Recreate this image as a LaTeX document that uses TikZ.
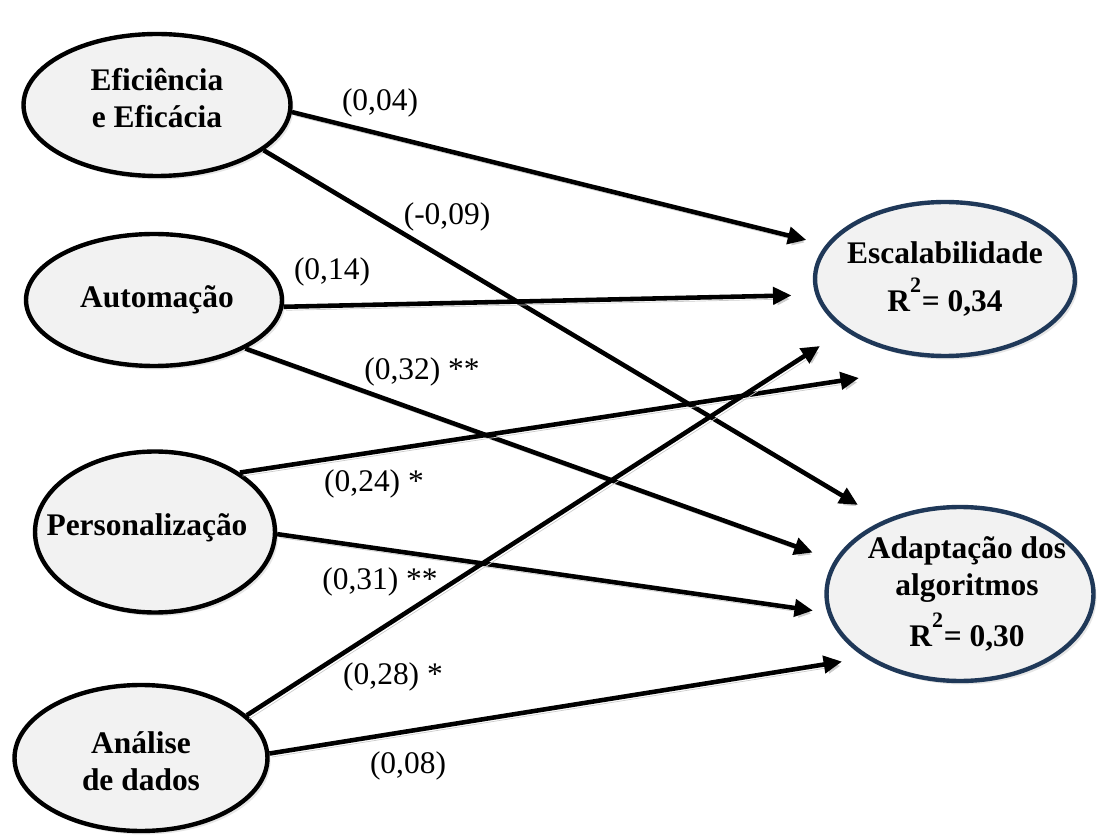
\documentclass[tikz,border=0pt]{standalone}
\usepackage{fontspec}
\setmainfont{Liberation Serif}
\usetikzlibrary{shapes, arrows.meta, shadows}
\definecolor{navy}{RGB}{31,56,88}
\definecolor{lightfill}{RGB}{242,242,242}

\begin{document}
\begin{tikzpicture}[
            x=0.02cm, y=-0.02cm,
            every node/.style={font=\fontsize{17.9}{21}\selectfont},
            construct/.style={ellipse, draw=black, line width=2.5pt, fill=lightfill, inner sep=0pt,
                drop shadow={opacity=0.2, shadow xshift=0.06cm, shadow yshift=-0.07cm}},
            outcome/.style={construct, draw=navy},
            title/.style={font=\fontsize{17.9}{21}\selectfont\bfseries, align=center},
            arrow/.style={-{Triangle[length=0.37cm, width=0.34cm]}, line width=2.6pt,
                preaction={draw=black!20, transform canvas={shift={(0.05cm,-0.07cm)}}}},
            coef/.style={inner sep=0pt}
        ]
            \useasboundingbox (0,0) rectangle (1098,837);

            % Predictors
            \node[construct, minimum width=5.34cm, minimum height=2.84cm,
                label={[title, yshift=0.13cm]center:Eficiência\\e Eficácia}] (eff) at (157,105) {};
            \node[construct, minimum width=5.12cm, minimum height=2.64cm,
                label={[title, xshift=0.06cm]center:Automação}] (aut) at (154,300) {};
            \node[construct, minimum width=4.8cm, minimum height=3.22cm,
                label={[title, xshift=-0.16cm, yshift=0.08cm]center:Personalização}] (per) at (155,532) {};
            \node[construct, minimum width=5.06cm, minimum height=2.92cm,
                label={[title, yshift=-0.06cm]center:Análise\\de dados}] (ana) at (141,758) {};

            % Outcomes
            \node[outcome, minimum width=5.2cm, minimum height=3.08cm,
                label={[title]center:Escalabilidade\\[6pt]R\raisebox{0.55ex}{\textsuperscript{2}}= 0,34}] (esc) at (945,279) {};
            \node[outcome, minimum width=5.34cm, minimum height=3.48cm,
                label={[title, xshift=0.14cm]center:Adaptação dos\\algoritmos\\[5pt]R\raisebox{0.55ex}{\textsuperscript{2}}= 0,30}] (ada) at (960,594) {};

            \coordinate (pertip) at (859,378);

            % Paths
            \draw[arrow, shorten >=0.4cm] (eff.-3) -- (esc.164);
            \draw[arrow, shorten >=0.6cm] (eff.-23) -- (ada.136);
            \draw[arrow, shorten >=0.48cm] (aut.-3) -- (esc.187);
            \draw[arrow, shorten >=0.46cm] (aut.-28) -- (ada.165);
            \draw[arrow] (per.35) -- (pertip);
            \draw[arrow, shorten >=0.29cm] (per.-1) -- (ada.188);
            \draw[arrow, shorten >=0.58cm] (ana.22) -- (esc.207);
            \draw[arrow, shorten >=0.47cm] (ana.2) -- (ada.214);

            % Coefficients
            \node[coef] (c1) at (380,103) {(0,04)};
            \node[coef] (c2) at (447,217) {(-0,09)};
            \node[coef] (c3) at (332,272) {(0,14)};
            \node[coef] (c4) at (422,372) {(0,32) **};
            \node[coef] (c5) at (374,484) {(0,24) *};
            \node[coef] (c6) at (380,582) {(0,31) **};
            \node[coef] (c7) at (393,677) {(0,28) *};
            \node[coef] (c8) at (408,766) {(0,08)};
        \end{tikzpicture}
\end{document}
